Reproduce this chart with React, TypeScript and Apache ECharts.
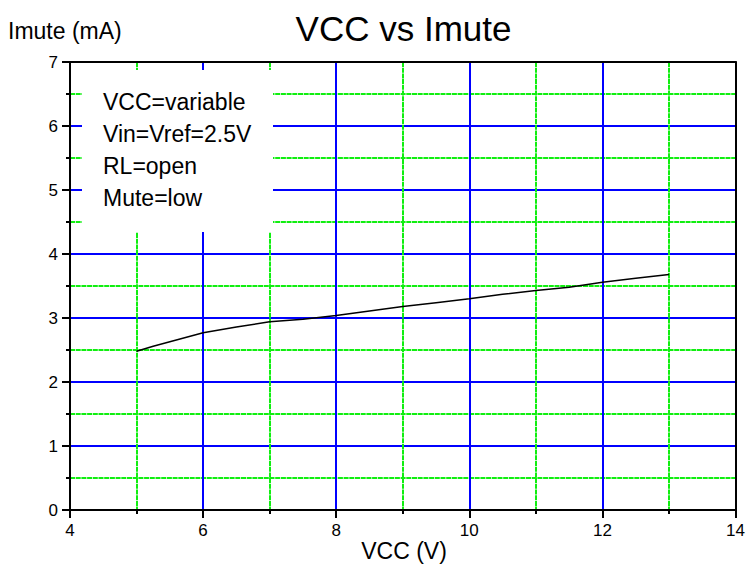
import React, { useEffect, useRef } from "react";
import * as echarts from "echarts";

const vcc = [5, 5.25, 5.5, 6, 6.5, 7, 7.5, 8, 8.5, 9, 9.5, 10, 10.5, 11, 11.5, 12, 12.5, 13];
const imute = [2.48, 2.56, 2.63, 2.77, 2.86, 2.94, 2.98, 3.04, 3.11, 3.18, 3.24, 3.3, 3.37, 3.43, 3.48, 3.56, 3.62, 3.68];
const legendLines = ["VCC=variable", "Vin=Vref=2.5V", "RL=open", "Mute=low"];
const titleText = "VCC vs Imute";
const xName = "VCC (V)";
const yName = "Imute (mA)";

const FONT = '"Liberation Sans", Arial, sans-serif';

export default function App() {
  const ref = useRef<HTMLDivElement>(null);
  useEffect(() => {
    const chart = echarts.init(ref.current!, null, { renderer: "svg" });
    const blue = "#0000ff";
    const green = "#11ee11";
    const minorStyle = { color: green, width: 2, type: [5, 0.7] };
    chart.setOption({
      animation: false,
      backgroundColor: "#ffffff",
      textStyle: { fontFamily: FONT },
      grid: { left: 70, right: 12, top: 62, bottom: 57 },
      xAxis: [
        {
          type: "value",
          min: 4,
          max: 14,
          interval: 2,
          axisLine: { show: true, onZero: false, lineStyle: { color: "#000", width: 2 } },
          axisTick: { show: true, length: 8, lineStyle: { color: "#000", width: 2 } },
          minorTick: { show: true, splitNumber: 2, length: 4, lineStyle: { color: "#000", width: 2 } },
          axisLabel: { color: "#000", fontSize: 17, margin: 12, fontFamily: FONT },
          splitLine: { show: true, showMinLine: false, showMaxLine: false, lineStyle: { color: blue, width: 2 } },
          minorSplitLine: { show: true, lineStyle: minorStyle },
        },
        {
          type: "value",
          position: "top",
          min: 4,
          max: 14,
          interval: 2,
          z: 5,
          axisLine: { show: true, onZero: false, lineStyle: { color: "#000", width: 2 } },
          axisTick: { show: false },
          axisLabel: { show: false },
          splitLine: { show: false },
        },
      ],
      yAxis: [
        {
          type: "value",
          min: 0,
          max: 7,
          interval: 1,
          axisLine: { show: true, onZero: false, lineStyle: { color: "#000", width: 2 } },
          axisTick: { show: true, length: 8, lineStyle: { color: "#000", width: 2 } },
          minorTick: { show: true, splitNumber: 2, length: 4, lineStyle: { color: "#000", width: 2 } },
          axisLabel: { color: "#000", fontSize: 17, margin: 12, fontFamily: FONT },
          splitLine: { show: true, showMinLine: false, showMaxLine: false, lineStyle: { color: blue, width: 2 } },
          minorSplitLine: { show: true, lineStyle: minorStyle },
        },
        {
          type: "value",
          position: "right",
          min: 0,
          max: 7,
          interval: 1,
          z: 5,
          axisLine: { show: true, onZero: false, lineStyle: { color: "#000", width: 2 } },
          axisTick: { show: false },
          axisLabel: { show: false },
          splitLine: { show: false },
        },
      ],
      graphic: [
        {
          type: "rect",
          z: 50,
          shape: { x: 82, y: 70, width: 191, height: 162 },
          style: { fill: "#ffffff" },
        },
        ...legendLines.map((t, i) => ({
          type: "text",
          z: 51,
          x: 103,
          y: 102 + i * 32,
          style: { text: t, fontSize: 23, fontFamily: FONT, fill: "#000", textVerticalAlign: "middle" },
        })),
        {
          type: "text",
          z: 51,
          x: 403.5,
          y: 28,
          style: { text: titleText, fontSize: 35, fontFamily: FONT, fill: "#000", textAlign: "center", textVerticalAlign: "middle" },
        },
        {
          type: "text",
          z: 51,
          x: 8,
          y: 31,
          style: { text: yName, fontSize: 23, fontFamily: FONT, fill: "#000", textVerticalAlign: "middle" },
        },
        {
          type: "text",
          z: 51,
          x: 404,
          y: 551,
          style: { text: xName, fontSize: 23, fontFamily: FONT, fill: "#000", textAlign: "center", textVerticalAlign: "middle" },
        },
      ],
      series: [
        {
          type: "line",
          data: vcc.map((v, i) => [v, imute[i]]),
          showSymbol: false,
          symbol: "none",
          lineStyle: { color: "#000", width: 1.5 },
          z: 10,
        },
      ],
    });
    return () => chart.dispose();
  }, []);
  return <div ref={ref} style={{ position: "fixed", left: 0, top: 0, width: 748, height: 567 }} />;
}
